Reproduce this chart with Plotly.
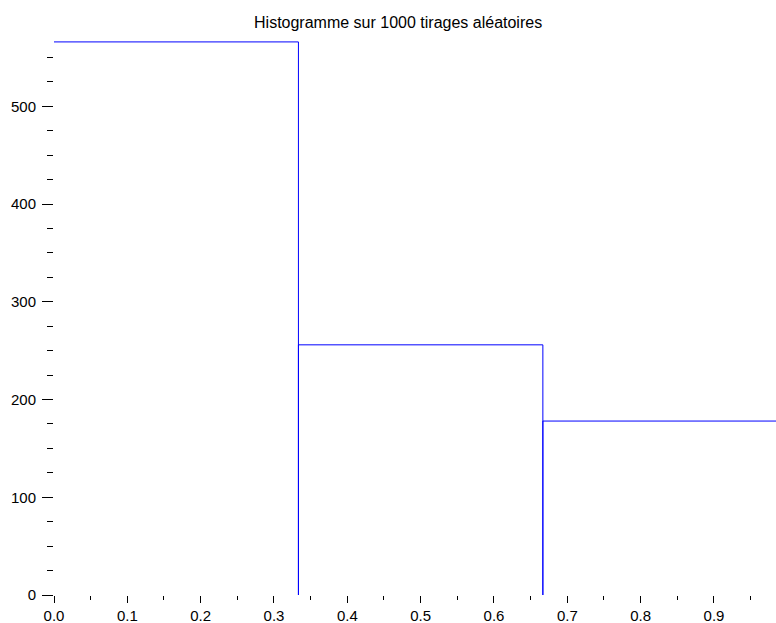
import plotly.graph_objects as go

# Bin edges and counts of the 1000-draw histogram
bin_edges = [0.0, 1 / 3, 2 / 3, 1.0]
counts = [566, 256, 178]

title_text = "Histogramme sur 1000 tirages aléatoires"
y_tick_vals = [0, 100, 200, 300, 400, 500]
x_tick_vals = [0.0, 0.1, 0.2, 0.3, 0.4, 0.5, 0.6, 0.7, 0.8, 0.9]

fig = go.Figure()

# Each bar is drawn as an open outline: left edge, top, right edge.
for i, c in enumerate(counts):
    left, right = bin_edges[i], bin_edges[i + 1]
    if left == bin_edges[0]:
        xs, ys = [left, right, right], [c, c, 0]
    else:
        xs, ys = [left, left, right, right], [0, c, c, 0]
    fig.add_trace(go.Scatter(
        x=xs, y=ys, mode="lines",
        line=dict(color="#0000ff", width=1),
        hoverinfo="skip", showlegend=False,
    ))

font_family = "Liberation Sans, Arial, sans-serif"

fig.update_layout(
    width=776, height=623,
    margin=dict(l=54, r=0, t=38, b=28),
    paper_bgcolor="white", plot_bgcolor="white",
    font=dict(family=font_family, size=15, color="black"),
    title=dict(
        text=title_text, x=0.513, xanchor="center",
        y=1 - 22 / 623, yanchor="middle", yref="container",
        font=dict(size=16, family=font_family, color="black"),
    ),
    showlegend=False,
)

fig.update_xaxes(
    range=[0, 0.9846],
    tickvals=x_tick_vals,
    ticktext=[f"{v:.1f}" for v in x_tick_vals],
    ticks="outside", ticklen=7, tickwidth=1, tickcolor="black",
    minor=dict(dtick=0.05, tick0=0, ticks="outside", ticklen=4,
               tickwidth=1, tickcolor="black", showgrid=False),
    showline=False, showgrid=False, zeroline=False,
    ticklabelstandoff=0,
    tickfont=dict(size=15, family=font_family, color="black"),
)

fig.update_yaxes(
    range=[0, 570],
    tickvals=y_tick_vals,
    ticks="outside", ticklen=11, tickwidth=1, tickcolor="black",
    minor=dict(dtick=25, tick0=0, ticks="outside", ticklen=6,
               tickwidth=1, tickcolor="black", showgrid=False),
    showline=False, showgrid=False, zeroline=False,
    ticklabelstandoff=3,
    tickfont=dict(size=15, family=font_family, color="black"),
)

fig.write_html("out.html")
